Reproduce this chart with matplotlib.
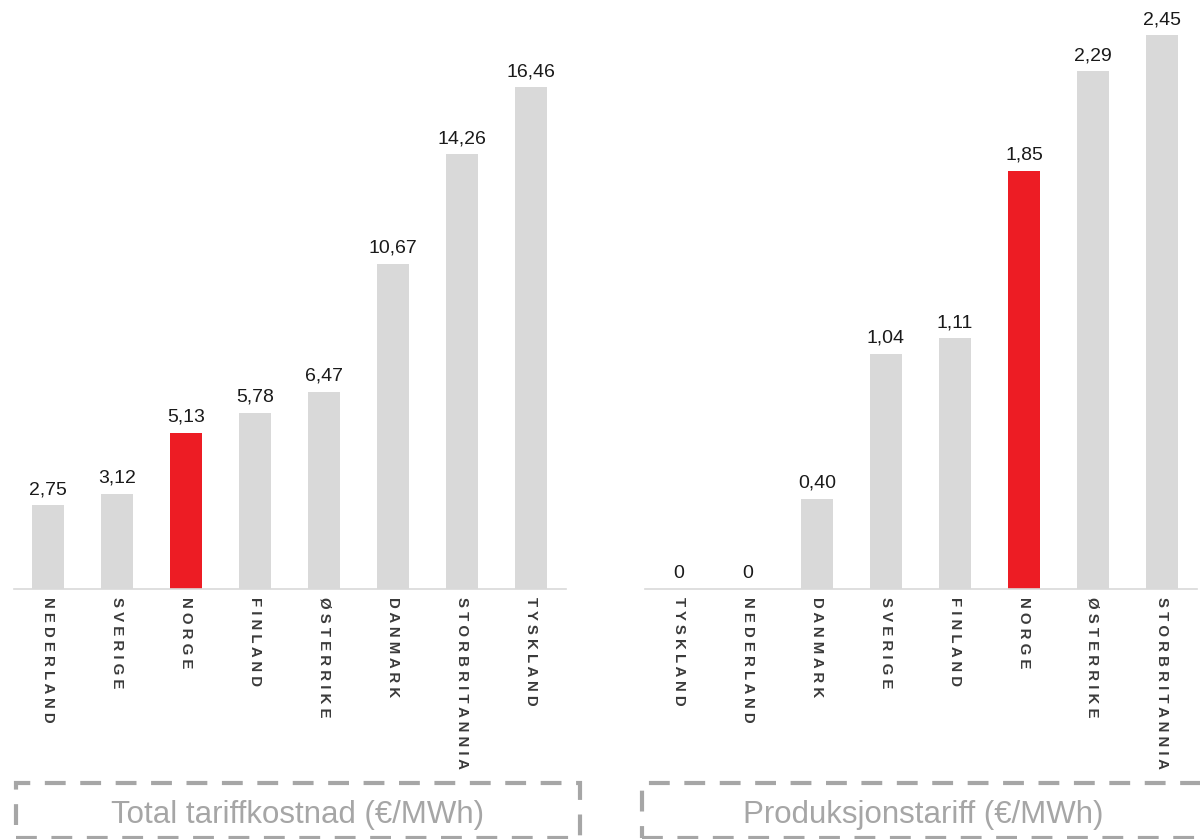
import matplotlib

matplotlib.use("Agg")

from matplotlib import pyplot as plt
from matplotlib.patches import Rectangle

# Total tariff cost per country (EUR/MWh)
total_countries = ["NEDERLAND", "SVERIGE", "NORGE", "FINLAND", "ØSTERRIKE",
                   "DANMARK", "STORBRITANNIA", "TYSKLAND"]
total_values = [2.75, 3.12, 5.13, 5.78, 6.47, 10.67, 14.26, 16.46]

# Production tariff per country (EUR/MWh)
prod_countries = ["TYSKLAND", "NEDERLAND", "DANMARK", "SVERIGE", "FINLAND",
                  "NORGE", "ØSTERRIKE", "STORBRITANNIA"]
prod_values = [0, 0, 0.40, 1.04, 1.11, 1.85, 2.29, 2.45]

highlight = "NORGE"
titles = ["Total tariffkostnad (€/MWh)", "Produksjonstariff (€/MWh)"]

GREY = "#d9d9d9"
RED = "#ed1c24"
LABEL_GREY = "#3a3a3a"
BOX_GREY = "#a6a6a6"

W, H = 1200, 839
plt.rcParams["font.family"] = ["Liberation Sans", "DejaVu Sans"]

fig = plt.figure(figsize=(W / 100, H / 100), dpi=100)


def px_axes(left, right, top, bottom):
    return fig.add_axes([left / W, 1 - bottom / H, (right - left) / W, (bottom - top) / H])


def fmt(v):
    return "0" if v == 0 else f"{v:.2f}".replace(".", ",")


def draw_panel(ax, countries, values, ymax):
    colors = [RED if c == highlight else GREY for c in countries]
    x = range(len(countries))
    ax.bar(x, values, width=0.46, color=colors)
    ax.set_xlim(-0.5, len(countries) - 0.5)
    ax.set_ylim(0, ymax)
    for s in ["top", "right", "left"]:
        ax.spines[s].set_visible(False)
    ax.spines["bottom"].set_color(GREY)
    ax.spines["bottom"].set_linewidth(1.2)
    ax.set_xticks([])
    ax.set_yticks([])
    ax.patch.set_alpha(0)
    for i, (c, v) in enumerate(zip(countries, values)):
        ax.annotate(fmt(v), (i, v), xytext=(0, 5), textcoords="offset points",
                    ha="center", va="bottom", fontsize=14, color="#1a1a1a")
        ax.annotate(" ".join(c), (i, 0), xytext=(0, -6), textcoords="offset points",
                    ha="center", va="top", rotation=270, fontsize=10.8,
                    fontweight="bold", color=LABEL_GREY, annotation_clip=False)


ax1 = px_axes(13.5, 565.5, 0, 589)
draw_panel(ax1, total_countries, total_values, 589 / 30.5)

ax2 = px_axes(644.5, 1196.5, 0, 589)
draw_panel(ax2, prod_countries, prod_values, 589 / 226.1)

# dashed caption boxes below the panels
for (x0, x1), title in zip([(16, 580), (642, 1204)], titles):
    fig.patches.append(Rectangle((x0 / W, 1 - 838 / H), (x1 - x0) / W, 55 / H,
                                 transform=fig.transFigure, fill=False,
                                 edgecolor=BOX_GREY, linewidth=3,
                                 linestyle=(0, (5, 3.5))))
    fig.text((x0 + x1) / 2 / W, 1 - 823 / H, title, ha="center", va="baseline",
             fontsize=22.5, color=BOX_GREY)

fig.savefig("out.png", dpi=100)
